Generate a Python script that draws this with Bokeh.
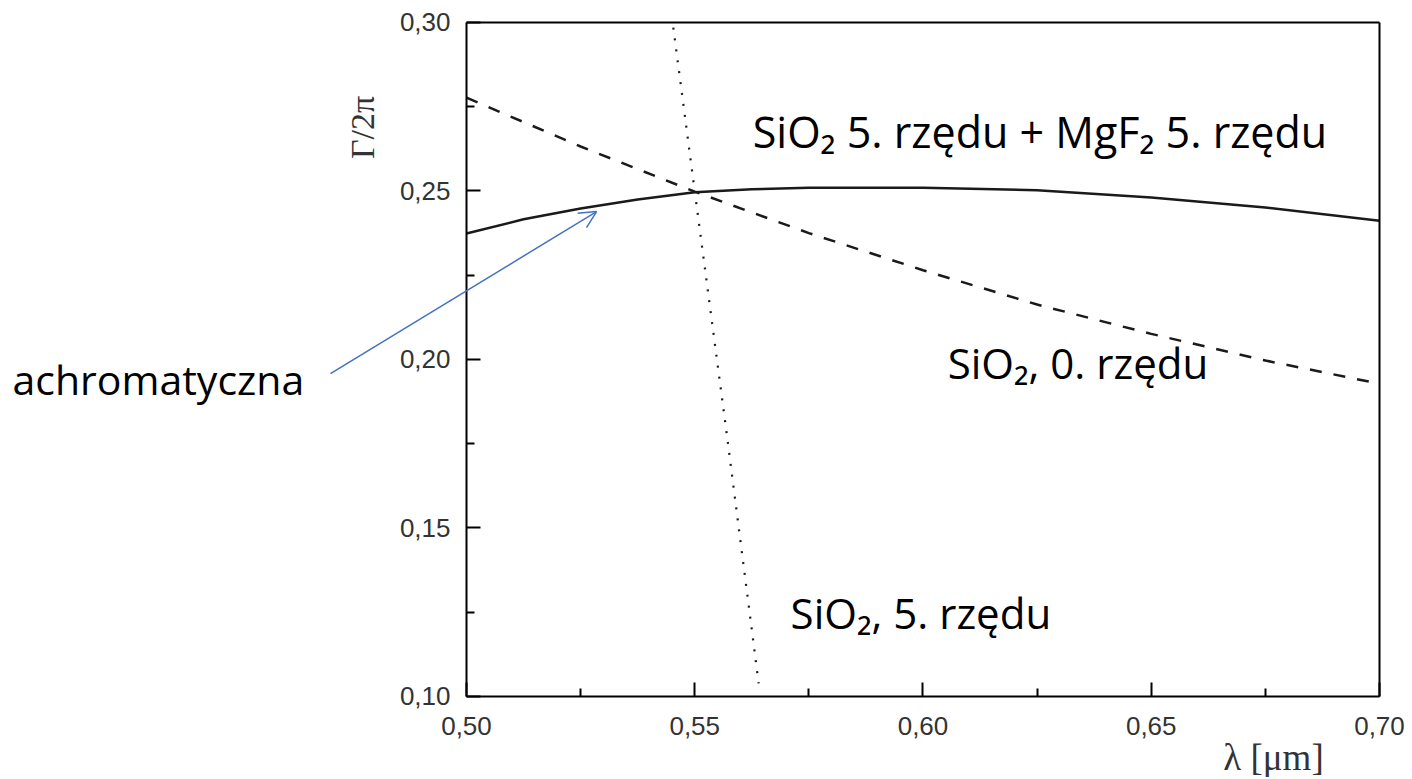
from bokeh.plotting import figure
from bokeh.models import Label, Arrow, OpenHead, Range1d, FixedTicker, CustomJSTickFormatter, LinearAxis
from bokeh.embed import file_html
from bokeh.resources import INLINE

# --- data ---
# SiO2 5th order + MgF2 5th order (achromatic, solid)
achro_wl = [0.500, 0.5125, 0.525, 0.5375, 0.550, 0.5625, 0.575, 0.600, 0.625, 0.650, 0.675, 0.700]
achro_g = [0.2374, 0.2416, 0.2448, 0.2475, 0.2496, 0.2505, 0.2510, 0.2510, 0.2502, 0.2481, 0.2451, 0.2412]

# SiO2 zero order (dashed)
zero_wl = [0.500, 0.525, 0.550, 0.575, 0.600, 0.625, 0.650, 0.675, 0.700]
zero_g = [0.2777, 0.2632, 0.2498, 0.2375, 0.2265, 0.2163, 0.2076, 0.1997, 0.1928]

# SiO2 5th order (dotted)
fifth_wl = [0.5453, 0.5500, 0.5570, 0.5640]
fifth_g = [0.2985, 0.2499, 0.1780, 0.1039]

x_ticks = [0.50, 0.55, 0.60, 0.65, 0.70]
x_minor = [0.525, 0.575, 0.625, 0.675]
y_ticks = [0.10, 0.15, 0.20, 0.25, 0.30]
y_minor = [0.125, 0.175, 0.225, 0.275]

# The frame fills the whole canvas so that texts and the arrow outside the axes box are not clipped;
# the axes are pinned at the box edges with fixed_location.
p = figure(width=1410, height=777, output_backend="svg", toolbar_location=None,
           x_range=Range1d(0.397919, 0.706791), y_range=Range1d(0.075964, 0.306528),
           min_border=0, min_border_left=0, min_border_right=0, min_border_top=0, min_border_bottom=0)

p.grid.visible = False
p.outline_line_color = None
p.background_fill_color = "white"
p.border_fill_color = "white"

p.line(achro_wl, achro_g, line_color="#1a1a1a", line_width=2.5)
p.line(zero_wl, zero_g, line_color="#1a1a1a", line_width=2.5, line_dash="12 12")
p.line(fifth_wl, fifth_g, line_color="#1a1a1a", line_width=2.2, line_dash="2 9")

fmt = CustomJSTickFormatter(code="return tick.toFixed(2).replace('.', ',');")
p.xaxis.ticker = FixedTicker(ticks=x_ticks, minor_ticks=x_minor)
p.yaxis.ticker = FixedTicker(ticks=y_ticks, minor_ticks=y_minor)
p.xaxis.fixed_location = y_ticks[0]
p.yaxis.fixed_location = x_ticks[0]
p.xaxis.bounds = (x_ticks[0], x_ticks[-1])
p.yaxis.bounds = (y_ticks[0], y_ticks[-1])
for ax in (p.xaxis[0], p.yaxis[0]):
    ax.formatter = fmt
    ax.axis_line_color = "black"
    ax.axis_line_width = 2
    ax.major_tick_in = 14
    ax.major_tick_out = 0
    ax.minor_tick_in = 8
    ax.minor_tick_out = 0
    ax.major_tick_line_width = 2
    ax.minor_tick_line_width = 2
    ax.major_tick_line_color = "black"
    ax.minor_tick_line_color = "black"
    ax.major_label_text_font = "Liberation Sans"
    ax.major_label_text_font_size = "26px"
    ax.major_label_text_color = "#333333"
p.xaxis.major_label_standoff = 21
p.yaxis.major_label_standoff = 16

# top and right edges of the box
top_axis = LinearAxis(fixed_location=y_ticks[-1], bounds=(x_ticks[0], x_ticks[-1]),
                      major_tick_line_color=None, minor_tick_line_color=None,
                      major_label_text_color=None, axis_line_width=2, axis_line_color="black")
right_axis = LinearAxis(fixed_location=x_ticks[-1], bounds=(y_ticks[0], y_ticks[-1]),
                        major_tick_line_color=None, minor_tick_line_color=None,
                        major_label_text_color=None, axis_line_width=2, axis_line_color="black")
p.add_layout(top_axis, "above")
p.add_layout(right_axis, "right")

# axis titles
p.add_layout(Label(x=0.67678, y=0.08190, text="λ [μm]", text_font="Liberation Serif",
                   text_font_size="37px", text_color="#333333",
                   text_align="center", text_baseline="middle"))
p.add_layout(Label(x=0.47730, y=0.26885, text="Γ/2π", text_font="Liberation Serif",
                   text_font_size="34px", text_color="#333333", angle=1.5708,
                   text_align="center", text_baseline="middle"))

# annotations
ann_font = "Open Sans"
p.add_layout(Label(x=0.5627, y=0.2678, text="SiO₂ 5. rzędu + MgF₂ 5. rzędu", text_font=ann_font,
                   text_font_size="43px", text_color="black", text_baseline="alphabetic"))
p.add_layout(Label(x=0.6054, y=0.1992, text="SiO₂, 0. rzędu", text_font=ann_font,
                   text_font_size="42px", text_color="black", text_baseline="alphabetic"))
p.add_layout(Label(x=0.5710, y=0.1250, text="SiO₂, 5. rzędu", text_font=ann_font,
                   text_font_size="42px", text_color="black", text_baseline="alphabetic"))
p.add_layout(Label(x=0.40055, y=0.1943, text="achromatyczna", text_font=ann_font,
                   text_font_size="41px", text_color="black", text_baseline="alphabetic"))

p.add_layout(Arrow(end=OpenHead(size=17, line_color="#4472C4", line_width=1.5),
                   x_start=0.4702, y_start=0.1958, x_end=0.5285, y_end=0.2439,
                   line_color="#4472C4", line_width=1.5))

open("out.html", "w").write(file_html(p, INLINE))
